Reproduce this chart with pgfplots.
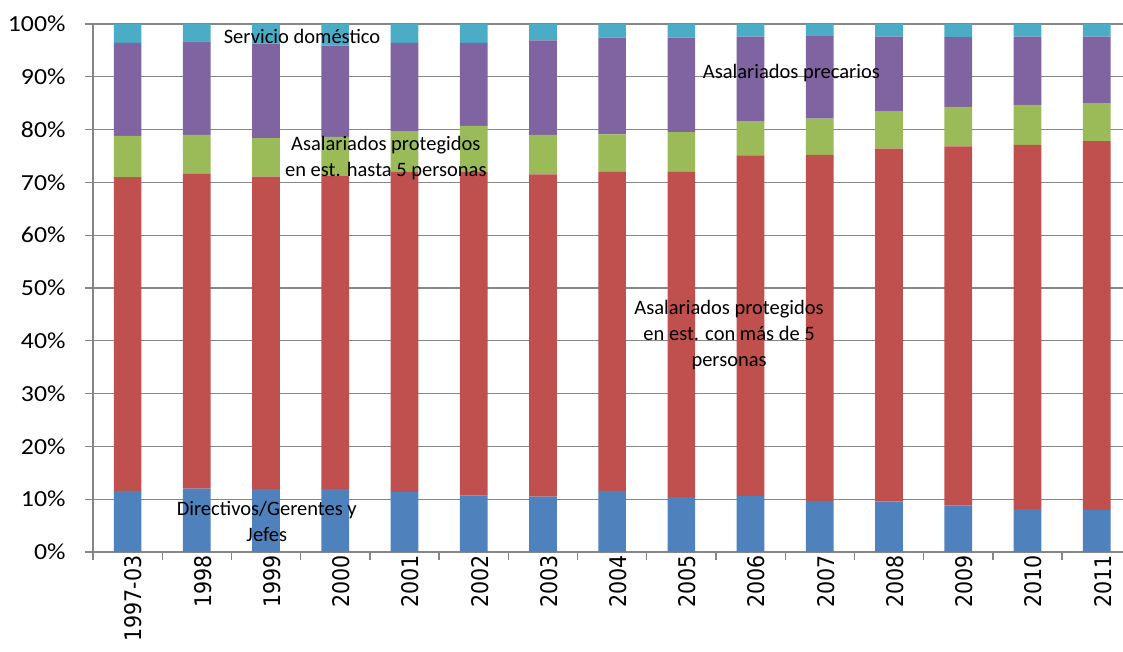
\documentclass[border=0pt]{standalone}
\usepackage{fontspec}
\setmainfont{Carlito}
\newfontfamily\xfont[FakeStretch=0.9]{DejaVu Sans}
\usepackage{pgfplots}
\pgfplotsset{compat=1.18}
\definecolor{cblue}{HTML}{4F81BD}
\definecolor{cred}{HTML}{C0504D}
\definecolor{cgreen}{HTML}{9BBB59}
\definecolor{cpurple}{HTML}{8064A2}
\definecolor{ccyan}{HTML}{4BACC6}
\definecolor{gridgray}{HTML}{868686}
\tikzset{lbl/.style={font=\fontsize{20.5}{26}\selectfont, align=center, inner sep=0pt}}
\begin{document}
\begin{tikzpicture}
\begin{axis}[
  at={(0,0)}, anchor=south west,
  scale only axis,
  width=1030pt, height=528pt,
  ybar stacked,
  bar width=27.7pt,
  xmin=-0.5, xmax=14.38,
  ymin=0, ymax=100,
  axis x line*=bottom, axis y line*=left,
  axis line style={draw=gridgray, line width=1.3pt},
  ymajorgrids,
  major grid style={draw=gridgray, line width=1.3pt},
  tick align=outside,
  major tick length=0pt,
  minor tick length=8pt,
  tick style={draw=gridgray, line width=1.3pt},
  ytick={0,10,...,100},
  minor ytick={0,10,...,100},
  yticklabels={0\%,10\%,20\%,30\%,40\%,50\%,60\%,70\%,80\%,90\%,100\%},
  yticklabel style={font=\fontsize{23}{27}\selectfont, xscale=1.12, anchor=east, xshift=-21pt},
  xtick={0,1,...,14},
  minor xtick={-0.5,0.5,...,14.5},
  xticklabels={1997-03,1998,1999,2000,2001,2002,2003,2004,2005,2006,2007,2008,2009,2010,2011},
  xticklabel style={rotate=90, anchor=east, font=\xfont\fontsize{22.9}{26}\selectfont, yshift=-6pt},
  clip=false,
]
\addplot[fill=cblue, draw=none] coordinates {(0,11.6) (1,12.0) (2,11.9) (3,11.9) (4,11.4) (5,10.7) (6,10.5) (7,11.6) (8,10.4) (9,10.6) (10,9.7) (11,9.6) (12,8.8) (13,8.1) (14,8.0)};
\addplot[fill=cred, draw=none] coordinates {(0,59.4) (1,59.6) (2,59.2) (3,59.3) (4,60.6) (5,61.3) (6,61.0) (7,60.4) (8,61.6) (9,64.5) (10,65.5) (11,66.8) (12,68.0) (13,69.0) (14,69.8)};
\addplot[fill=cgreen, draw=none] coordinates {(0,7.8) (1,7.4) (2,7.3) (3,7.4) (4,7.6) (5,8.7) (6,7.5) (7,7.1) (8,7.5) (9,6.5) (10,6.9) (11,7.0) (12,7.5) (13,7.6) (14,7.2)};
\addplot[fill=cpurple, draw=none] coordinates {(0,17.6) (1,17.7) (2,17.9) (3,17.3) (4,16.8) (5,15.7) (6,17.9) (7,18.3) (8,17.9) (9,16.0) (10,15.6) (11,14.2) (12,13.2) (13,12.9) (14,12.6)};
\addplot[fill=ccyan, draw=none] coordinates {(0,3.6) (1,3.3) (2,3.7) (3,4.1) (4,3.6) (5,3.6) (6,3.1) (7,2.6) (8,2.6) (9,2.4) (10,2.3) (11,2.4) (12,2.5) (13,2.4) (14,2.4)};
\coordinate (l1) at (axis cs:2.52,97.7);
\coordinate (l2) at (axis cs:9.59,90.7);
\coordinate (l3) at (axis cs:3.73,74.6);
\coordinate (l4) at (axis cs:8.69,41.1);
\coordinate (l5) at (axis cs:2.01,5.7);
\end{axis}
\node[lbl] at (l1) {Servicio doméstico};
\node[lbl] at (l2) {Asalariados precarios};
\node[lbl] at (l3) {Asalariados protegidos\\en est. hasta 5 personas};
\node[lbl] at (l4) {Asalariados protegidos\\en est. con más de 5\\personas};
\node[lbl] at (l5) {Directivos/Gerentes y\\Jefes};
\pgfresetboundingbox
\path[use as bounding box] (-93pt,-100pt) rectangle (1030pt,552pt);
\end{tikzpicture}
\end{document}
